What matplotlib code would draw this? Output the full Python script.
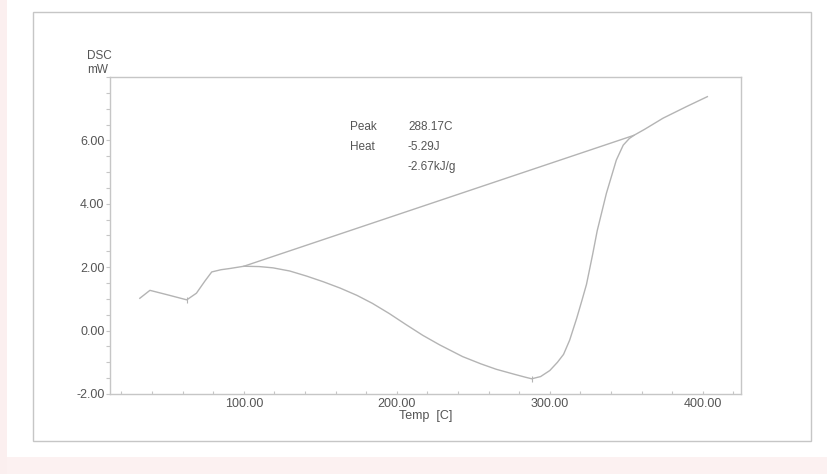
import numpy as np
import matplotlib
matplotlib.use("Agg")
import matplotlib.pyplot as plt
from matplotlib.patches import Rectangle
from matplotlib.ticker import MultipleLocator, FixedLocator, FormatStrFormatter

# DSC trace, temperature in C and heat flow in mW
temp = [32, 38.6, 50, 62.7, 69, 74.5, 79, 85, 91, 100,
        110, 119, 130, 141, 152, 163, 174, 184, 195, 206, 217, 228,
        243, 255, 265, 277, 284, 288.2, 294, 300, 305, 309, 313, 317.6,
        321, 324, 328, 331, 337, 343.5, 348, 352, 355,
        362, 374, 389.5, 403]
dsc = [1.02, 1.27, 1.13, 0.97, 1.18, 1.56, 1.85, 1.92, 1.96, 2.03,
       2.02, 1.98, 1.88, 1.72, 1.54, 1.34, 1.11, 0.86, 0.54, 0.19, -0.15, -0.45,
       -0.82, -1.05, -1.22, -1.38, -1.47, -1.52, -1.45, -1.26, -1.0, -0.75, -0.3, 0.39,
       0.95, 1.46, 2.4, 3.15, 4.33, 5.38, 5.85, 6.06, 6.16,
       6.35, 6.7, 7.07, 7.38]

# integration baseline under the peak
base_t = [100, 355]
base_y = [2.03, 6.16]

# event marks on the trace
mark_t = [62.7, 288.2]
mark_y = [0.97, -1.52]

y_ticks = [-2, 0, 2, 4, 6]
x_ticks = [100, 200, 300, 400]

peak_lines = ["Peak", "Heat", ""]
peak_vals = ["288.17C", "-5.29J", "-2.67kJ/g"]

line_c = "#b4b4b4"
frame_c = "#c6c6c6"
text_c = "#555555"

plt.rcParams["font.family"] = ["Liberation Sans", "DejaVu Sans"]

fig = plt.figure(figsize=(8.28, 4.74), dpi=100)
fig.patch.set_facecolor("white")

# paper edges
fig.patches.append(Rectangle((0, 0), 1, 0.035, transform=fig.transFigure,
                             facecolor="#fcf1f1", edgecolor="none", zorder=0))
fig.patches.append(Rectangle((0, 0), 0.008, 1, transform=fig.transFigure,
                             facecolor="#fbefef", edgecolor="none", zorder=0))
fig.patches.append(Rectangle((33/828, 1-441/474), 778/828, 429/474,
                             transform=fig.transFigure, facecolor="none",
                             edgecolor=frame_c, lw=1.0, zorder=1))

ax = fig.add_axes([110/828, 1-394/474, 631/828, 317/474])
ax.set_facecolor("none")
ax.plot(temp, dsc, color=line_c, lw=1.0)
ax.plot(base_t, base_y, color=line_c, lw=1.0)
ax.plot(mark_t, mark_y, ls="none", marker="|", ms=4, mew=0.8, color=line_c)

ax.set_xlim(12.5, 425)
ax.set_ylim(-2, 8)
ax.xaxis.set_major_locator(FixedLocator(x_ticks))
ax.xaxis.set_minor_locator(MultipleLocator(20))
ax.yaxis.set_major_locator(FixedLocator(y_ticks))
ax.yaxis.set_minor_locator(MultipleLocator(0.5))
ax.xaxis.set_major_formatter(FormatStrFormatter("%.2f"))
ax.yaxis.set_major_formatter(FormatStrFormatter("%.2f"))

for s in ax.spines.values():
    s.set_color(frame_c)
    s.set_linewidth(1.0)
ax.tick_params(axis="x", which="both", direction="in", length=2.5, width=0.8,
               color=frame_c, labelcolor=text_c, labelsize=9, pad=3)
ax.tick_params(axis="y", which="both", direction="out", length=3, width=0.8,
               color=frame_c, labelcolor=text_c, labelsize=9, pad=1)

ax.set_xlabel("Temp  [C]", color=text_c, fontsize=9, labelpad=0)
fig.text(87/828, 1-56/474, "DSC", color=text_c, fontsize=8.5, ha="left", va="center")
fig.text(87/828, 1-70/474, "mW", color=text_c, fontsize=8.5, ha="left", va="center")

for i, (k, v) in enumerate(zip(peak_lines, peak_vals)):
    yy = 1 - (127 + 20 * i) / 474
    fig.text(350/828, yy, k, color=text_c, fontsize=8.5, ha="left", va="center")
    fig.text(408/828, yy, v, color=text_c, fontsize=8.5, ha="left", va="center")

fig.savefig("out.png", dpi=100)
